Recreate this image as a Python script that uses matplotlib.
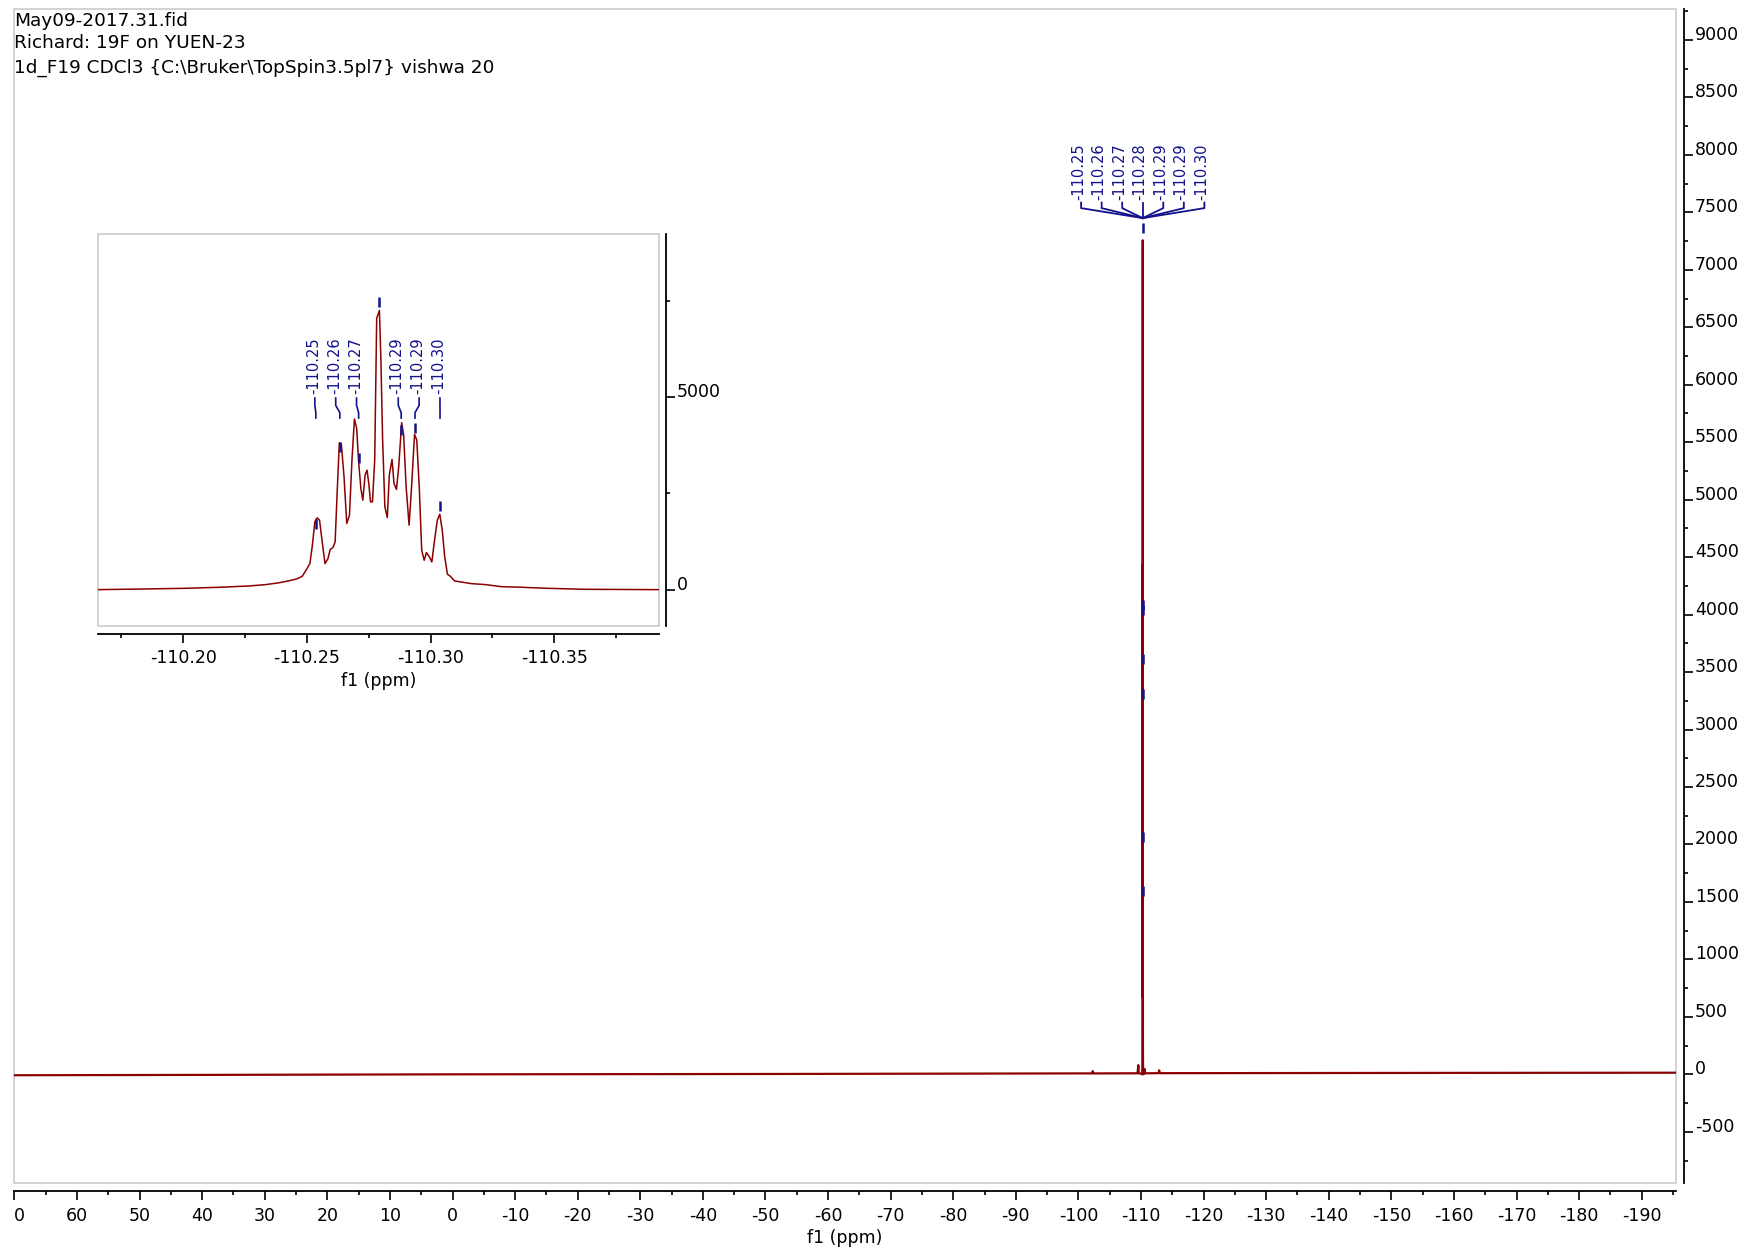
import numpy as np
import matplotlib
matplotlib.use('Agg')
import matplotlib.pyplot as plt
from matplotlib.patches import Rectangle
from matplotlib.path import Path
from matplotlib.transforms import Bbox, TransformedBbox

plt.rcParams['font.family'] = 'DejaVu Sans'
plt.rcParams['axes.unicode_minus'] = False

# header lines
header = ['May09-2017.31.fid',
          'Richard: 19F on YUEN-23',
          '1d_F19 CDCl3 {C:\\Bruker\\TopSpin3.5pl7} vishwa 20']

# multiplet around -110.28 ppm
multiplet_ppm = [-110.1655, -110.1838, -110.2009, -110.2145, -110.2264, -110.2332, -110.2383,
                 -110.2425, -110.2459, -110.2481, -110.2498, -110.2512, -110.2522, -110.2532,
                 -110.2541, -110.2551, -110.2561, -110.2573, -110.2585, -110.2594, -110.2605,
                 -110.2614, -110.2622, -110.2631, -110.2639, -110.2650, -110.2661, -110.2672,
                 -110.2682, -110.2692, -110.2701, -110.2709, -110.2718, -110.2726, -110.2735,
                 -110.2743, -110.2750, -110.2757, -110.2765, -110.2774, -110.2782, -110.2793,
                 -110.2799, -110.2806, -110.2815, -110.2825, -110.2833, -110.2844, -110.2852,
                 -110.2862, -110.2871, -110.2883, -110.2891, -110.2901, -110.2913, -110.2923,
                 -110.2935, -110.2944, -110.2954, -110.2964, -110.2974, -110.2983, -110.2995,
                 -110.3005, -110.3015, -110.3027, -110.3037, -110.3047, -110.3057, -110.3068,
                 -110.3080, -110.3097, -110.3122, -110.3165, -110.3224, -110.3284, -110.3369,
                 -110.3471, -110.3624, -110.3922]
multiplet_int = [0, 17, 35, 61, 95, 130, 174,
                 226, 278, 347, 521, 677, 1154, 1762,
                 1866, 1805, 1285, 677, 807, 1042, 1094,
                 1241, 2500, 3819, 3784, 2934, 1719, 1936,
                 3368, 4435, 4192, 3324, 2630, 2326, 2977,
                 3107, 2760, 2283, 2283, 3368, 7057, 7257,
                 5972, 3889, 2153, 1875, 2977, 3385, 2760,
                 2604, 3194, 4340, 4019, 2673, 1675, 2673,
                 4036, 3889, 2673, 1024, 764, 963, 851,
                 720, 1241, 1805, 1962, 1545, 851, 399,
                 347, 226, 200, 156, 130, 78, 61,
                 35, 9, 0]

# baseline of the full spectrum
base_left_ppm = [70.06, 40.0, 0.0, -50.0, -100.0, -102.2, -102.3, -102.4, -109.45, -109.57, -109.65, -110.1]
base_left_int = [-8, -5, 0, 3, 8, 8, 28, 8, 9, 80, 9, 5]
base_right_ppm = [-110.45, -110.55, -110.6, -110.65, -112.8, -112.9, -113.0, -150.0, -195.43]
base_right_int = [5, 9, 45, 9, 10, 35, 10, 12, 14]

# picked peaks
peak_ppm = [-110.2536, -110.2633, -110.2709, -110.2793, -110.2881, -110.2937, -110.3038]
peak_labels = ['-110.25', '-110.26', '-110.27', '-110.28', '-110.29', '-110.29', '-110.30']
peak_mark = [1831, 3845, 3541, 7595, 4279, 4322, 2300]
inset_shown = [0, 1, 2, 4, 5, 6]

RED = '#8b0000'
BLUE = '#12128c'
W, H = 1745, 1254

fig = plt.figure(figsize=(W / 100, H / 100), dpi=100)


def frac(x0, y0, x1, y1):
    return [x0 / W, 1 - y1 / H, (x1 - x0) / W, (y1 - y0) / H]


def style_axes(a, off):
    a.spines['top'].set_visible(False)
    a.spines['left'].set_visible(False)
    for side in ['bottom', 'right']:
        a.spines[side].set_position(('outward', off))
        a.spines[side].set_linewidth(1.3)
        a.spines[side].set_color('black')
    a.add_patch(Rectangle((0, 0), 1, 1, transform=a.transAxes, fill=False,
                          ec='#c6c6c6', lw=1.1, clip_on=False, zorder=0.5))
    a.yaxis.tick_right()
    a.tick_params(which='major', length=6.3, width=1.2, labelsize=12.5)
    a.tick_params(which='minor', length=3.2, width=1.2)
    a.tick_params(axis='x', which='major', pad=5.0)
    a.tick_params(axis='y', which='major', pad=1.5)


def drop_marker(gap, length):
    # vertical dash hanging below the point, sizes in pixels
    return Path([(0, -gap), (0, -gap - length)]), 2 * (gap + length) * 0.72


# main spectrum
ax = fig.add_axes(frac(14, 9.3, 1675.7, 1182.7))
style_axes(ax, 6)
main_x = base_left_ppm + multiplet_ppm + base_right_ppm
main_y = base_left_int + multiplet_int + base_right_int
ax.plot(main_x, main_y, color=RED, lw=1.6, zorder=2)
ax.set_xlim(70.06, -195.43)
ax.set_ylim(-943, 9267)

xt = np.arange(70, -191, -10)
ax.set_xticks(xt)
ax.set_xticklabels([str(int(v)) for v in xt])
ax.set_xticks(np.arange(70, -196, -5), minor=True)
yt = np.arange(-500, 9001, 500)
ax.set_yticks(yt)
ax.set_yticklabels([str(int(v)) for v in yt], va='baseline')
ax.set_yticks(np.arange(-750, 9251, 250), minor=True)
ax.set_xlabel('f1 (ppm)', fontsize=12.5, labelpad=3)

clip = TransformedBbox(Bbox([[14 / W, 0], [1, 1]]), fig.transFigure)
for lbl in ax.get_xticklabels():
    lbl.set_clip_box(clip)
    lbl.set_clip_on(True)

# peak labels on the main spectrum
centre = peak_ppm[3]
main_lab_x = centre - (np.arange(len(peak_ppm)) - 3) * 3.283
for lx, txt in zip(main_lab_x, peak_labels):
    ax.text(lx + 0.45, 7609, txt, rotation=90, ha='center', va='bottom',
            color=BLUE, fontsize=10.5)
    ax.plot([lx, lx, centre], [7585, 7537, 7450], color=BLUE, lw=1.3, zorder=3)
mk, ms = drop_marker(22, 10)
ax.plot(peak_ppm, peak_mark, ls='none', marker=mk, ms=ms, mec=BLUE, mew=1.8, zorder=4)

# inset zoom on the multiplet
axin = fig.add_axes(frac(97.9, 234, 658.7, 626))
style_axes(axin, 5.5)
axin.plot(multiplet_ppm, multiplet_int, color=RED, lw=1.1, zorder=2)
axin.set_xlim(-110.1655, -110.3922)
axin.set_ylim(-945, 9244)
axin.set_xticks([-110.20, -110.25, -110.30, -110.35])
axin.set_xticklabels(['-110.20', '-110.25', '-110.30', '-110.35'])
axin.set_xticks([-110.175, -110.225, -110.275, -110.325, -110.375], minor=True)
axin.set_yticks([0, 5000])
axin.set_yticklabels(['0', '5000'], va='baseline')
axin.set_yticks([2500, 7500], minor=True)
axin.set_xlabel('f1 (ppm)', fontsize=12.5, labelpad=3)

in_lab_x = -110.2532 - np.array([0, 1, 2, 4, 5, 6]) * 0.00843
for lx, k in zip(in_lab_x, inset_shown):
    px = peak_ppm[k]
    axin.text(lx + 0.0005, 5078, peak_labels[k], rotation=90, ha='center', va='bottom',
              color=BLUE, fontsize=10.5)
    axin.plot([lx, lx, px, px], [4980, 4790, 4600, 4460], color=BLUE, lw=1.2, zorder=3)
mk, ms = drop_marker(0, 10)
axin.plot(peak_ppm, peak_mark, ls='none', marker=mk, ms=ms, mec=BLUE, mew=1.8, zorder=4)

# header text
for txt, yb in zip(header, [26.5, 48.0, 73.0]):
    fig.text(14.5 / W, 1 - yb / H, txt, fontsize=13.3, va='baseline')

fig.savefig('out.png', dpi=100)
